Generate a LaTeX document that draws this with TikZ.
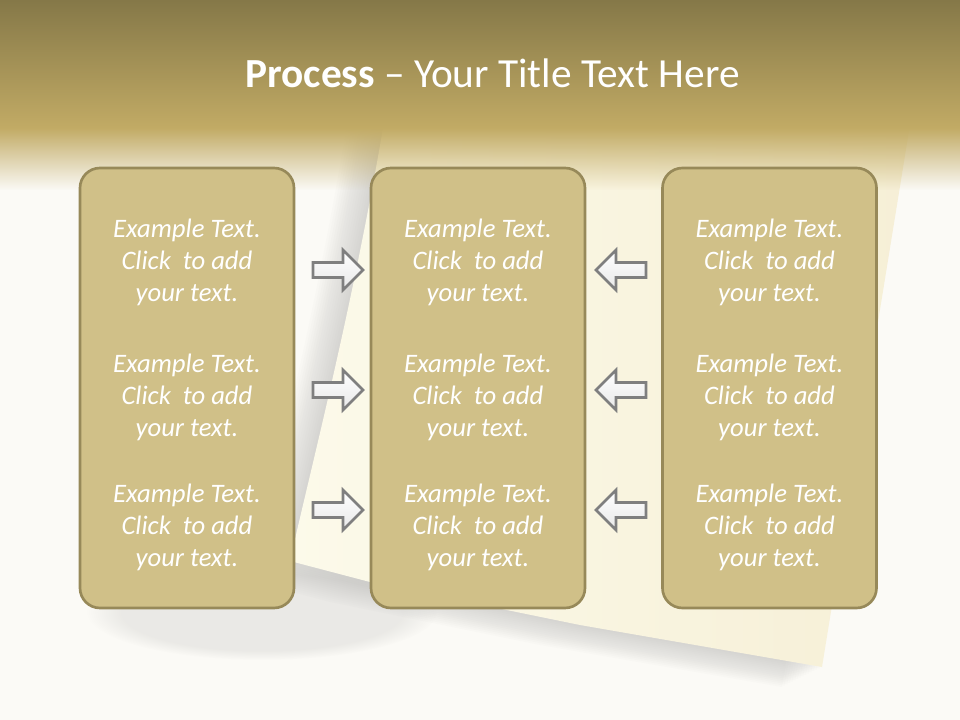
\documentclass[tikz,border=0pt]{standalone}
\usepackage{fontspec}
\setmainfont{Carlito}
\usetikzlibrary{fadings}

\definecolor{bandtop}{HTML}{857848}
\definecolor{bandlow}{HTML}{C2AB65}
\definecolor{pagebg}{HTML}{FBFAF6}
\definecolor{papercream}{HTML}{F6EFD6}
\definecolor{paperlight}{HTML}{FCFAEA}
\definecolor{papershade}{HTML}{A8A8A6}
\definecolor{boxfill}{HTML}{D0C088}
\definecolor{boxedge}{HTML}{978959}
\definecolor{arrowedge}{HTML}{7F7F7F}

\tikzfading[name=bandfade, top color=transparent!0, bottom color=transparent!100]

\newcommand{\sampletext}{Example Text.\\Click~ to add\\your text.}

\tikzset{
  colbox/.style={draw=boxedge, line width=2pt, fill=boxfill, rounded corners=15pt,
    minimum width=160.5pt, minimum height=330pt, inner sep=0pt},
  boxtext/.style={text=white, align=center, inner sep=0pt,
    font=\fontsize{20}{24}\selectfont\itshape},
  titletext/.style={text=white, inner sep=0pt, font=\fontsize{31}{37}\selectfont},
  arrowshape/.style={draw=arrowedge, line width=2pt, miter limit=4,
    top color=white, bottom color=black!9},
  flowarrow/.pic={\draw[arrowshape] (-25,-7.5) -- (5,-7.5) -- (5,-20) -- (25,0) -- (5,20) -- (5,7.5) -- (-25,7.5) -- cycle;}
}

\begin{document}
\begin{tikzpicture}[x=0.75pt,y=-0.75pt]
\useasboundingbox (0,0) rectangle (960,720);
\fill[pagebg] (0,0) rectangle (960,720);
% soft shadow of the curled sheet
\fill[papershade, opacity=0.2, path fading=circle with fuzzy edge 20 percent] (262,612) ellipse (175 and 48);
\foreach \s in {2,4,...,30}
  \fill[papershade, opacity=0.03, xshift={-\s*1pt}, yshift={-0.5*\s*1pt}] (397,40) -- (914,100) -- (822,667) -- (580,625) -- (370,582) -- (290,561) .. controls (315,450) and (365,260) .. (397,40) -- cycle;
% the sheet
\shade[left color=paperlight, right color=papercream] (397,40) -- (914,100) -- (822,667) -- (580,625) -- (370,582) -- (290,561) .. controls (315,450) and (365,260) .. (397,40) -- cycle;
% title band
\shade[top color=bandtop, bottom color=bandlow] (0,0) rectangle (960,129);
\fill[bandlow, path fading=bandfade] (0,128) rectangle (960,190);
\node[titletext, anchor=base] (title) at (492.5,88) {\textbf{Process} -- Your Title Text Here};
% columns
\node[colbox] (feedA) at (187,388) {};
\node[colbox] (hub) at (478,388) {};
\node[colbox] (feedB) at (769.5,388) {};
% texts
\node[boxtext] (feedA-1) at (187,262) {\sampletext};
\node[boxtext] (feedA-2) at (187,397) {\sampletext};
\node[boxtext] (feedA-3) at (187,527) {\sampletext};
\node[boxtext] (hub-1) at (478,262) {\sampletext};
\node[boxtext] (hub-2) at (478,397) {\sampletext};
\node[boxtext] (hub-3) at (478,527) {\sampletext};
\node[boxtext] (feedB-1) at (769.5,262) {\sampletext};
\node[boxtext] (feedB-2) at (769.5,397) {\sampletext};
\node[boxtext] (feedB-3) at (769.5,527) {\sampletext};
% block arrows
\pic at (338,270) {flowarrow};
\pic at (338,390) {flowarrow};
\pic at (338,510) {flowarrow};
\pic[rotate=180] at (621,270) {flowarrow};
\pic[rotate=180] at (621,390) {flowarrow};
\pic[rotate=180] at (621,510) {flowarrow};
\end{tikzpicture}
\end{document}
